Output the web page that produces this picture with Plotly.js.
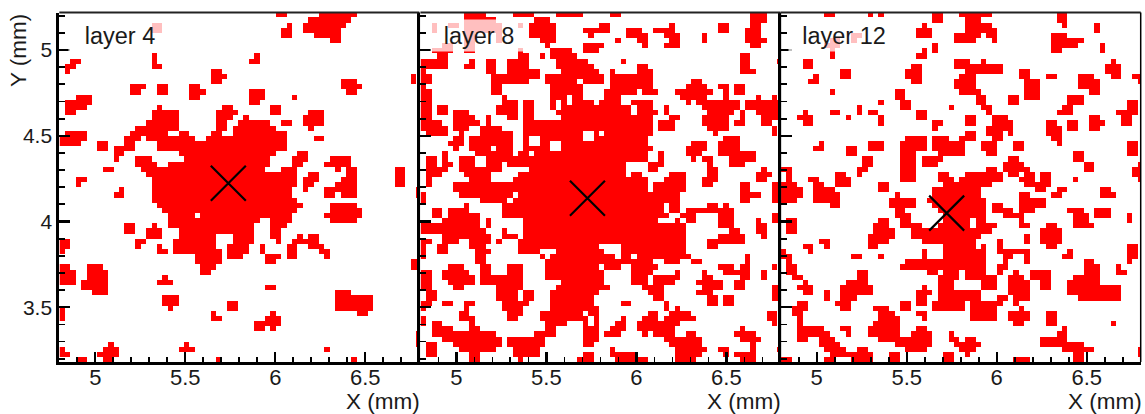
<!DOCTYPE html>
<html><head><meta charset="utf-8">
<script src="https://cdn.plot.ly/plotly-3.0.1.min.js"></script>
<style>html,body{margin:0;padding:0;background:#fff}</style></head><body>
<div id="chart" style="width:1145px;height:414px"></div>
<script>
const panelNames=["layer 4","layer 8","layer 12"];
const markX=[5.739,5.728,5.722];
const markY=[4.223,4.136,4.049];
const xTicks=[5,5.5,6,6.5];
const yTicks=[3.5,4,4.5,5];
const cellSize=0.03;
const nCols=67;
const firstColX=4.817;
const firstRowY=5.205;
// each string: the lit pixel columns of one detector row, top row first
const layer4=["40-41 48-54","46-53","17-18 42 45-52","17-18 41-42 45-51","41-42 47-51","50-51","","","17 36","2-3 17 35-36","1-2 17-18","1 28-29","28-30 65","28-29 52-54 65","13-15 18-19 24-25 52-55","13-14 18-19 24-26 35-37 53-54","3-5 24-25 35-37 43","1-5 35-36","1-4 18 30-31 39-40","1-2 17-21 29-32 39-40 46-48","17-21 29-31 34 45-48","16-21 29-30 33-38 41-42 45-48","14-21 29-30 32-39 46","1-4 13-19 22-23 28-29 32-41","0-4 12-14 16-24 27-41 47-48","0-3 7-8 12-13 18-41","7-8 10-13 18-41","10-11 22-39 44-45","10 14-16 23-38 43-45 50-53","14-17 20-38 43-44 49-53","8-9 15-37 41-43 51 53-54 62-63","16-43 46-47 53-54 62-63","3-4 17-43 45-47 52-54 62-63","3 17-43 45-46 51-54 62-63","11 17-42 45 49-54 66","10-11 17-42 49-50 52-54 66","17-43","18-44 50-54","19-43 50-55","20-24 26-42 49-55","20-36 39-42 50-54","12-13 17 20-35 39-41","12-13 16-18 22-35 39-40","16-18 22-28 32-35 39-40 44 46-47","0-1 14-15 21-28 32-35 40 43-47","0-1 14 18 21-28 31-34 37 42-43 46-48","0 18-19 21-29 31-34 37 42-43 48-49","25-29 31-33 38-40 42-43 49","25-29 38-39 65-66","0-1 5-7 26-28 65-66","0-2 5-8 26-27","0-2 5-8 19","0-2 4-8 18-20","4-8 38-39","6-8 51-53","19-21 51-57","19-21 31-32 51-57","0 20 31-32 51-57","0 28 39 55-56","0 28-29 38-40","36-40","36-37 39","66","66","9 23 66","0 8-10 22-24 49","0-1 7-10","3-4 8-9 29 54"];
const layer8=["8-11 17-20 25-29 35-36 61-63","8-13 21-23 61-63","2 5-6 8-14 18 20-24 33-34 46 55-56 61-62","2 8-14 20-24 30-34 38-40 43-46 55-56 60-62","8-9 14 20-24 31 38-41 45-47 52 60-62","8-9 14 22-24 36 40-41 46-47 52 60-63","4-5 8-9 23 30-33 41 45-47 61-62","2-5 8-9 18 24-27 30-32","3-4 18-19 22 24-28 59-60","0-4 9 12-13 16-19 25-30 37 59-60 66","0-4 8-9 12-13 16-19 25-31 40-41 59-60","0 12-13 16-21 26-32 35 40-42 59-61","0-1 13-21 23-33 35-42","0-1 13-19 23-28 30-33 35-42 50-51","0 13-14 24-29 35-42 49-52 55-56 58-59","0-1 13-14 24-29 34-39 41-43 47-53 56 58-59","0-1 15 24-26 28-29 34-36 48-52 56 62 65","0-1 15-17 19-20 24 26 28-31 33-36 39-42 49 51-58 60-66","0-1 3-4 14-17 19-20 24 26-38 40-42 45 52-58 60-66","0-1 3-4 6-8 14-17 19-20 25-38 40-43 45 53-57 59 62-66","0-1 6-9 12 16-17 19-20 26-42 46-47 52-56 59 63-66","0-3 6-10 12 19-42 44-46 52-56 58-59 63-64","0-4 6-8 11-14 19-42 44-46 53-56 65","1-4 7 11-16 19-29 32 34-42 54 65","6-7 9-16 19 22-29 32-41 56-58","5-7 9-16 19 22-23 26-41 50-52 55-58","6 9-12 14-16 19-23 26-42 49-52 55-58","4 10-16 18-19 21-41 44 49-51 55-61","1-2 4 7-9 12-41 44 50 52-53 57-61","1-2 4-5 7-9 12-14 16-37 42-44 53 57-59","1-4 7-14 20-37 42-43 53-54 63","1-3 8-12 18-37 39-40 46-48 53-54 62-64","1 9-12 17-41 45-48 52-54 62-63","1 6-41 43-48 52-53 59-60 65-66","6-41 43-48 59-60 65-66","0 7-16 18-47 59-62 65-66","0 11-15 17-47 59-60 65-66","8 15-44 46-47 53-54 56","2-3 5-8 15-44 46-47 49-57","2-3 5-10 15-45 48-50 55-57 65-66","4-10 12 19-43 47 49-50 55-57 62 65-66","0-10 12 19-48 55-57 62-63","0-11 15 19-48 57-58 62-63","4-12 15-17 19-48 55-59 63","0-1 4-6 9-12 14 18-48 53-59","0 3-4 9-11 18-32 37-48 53-54","0 3-4 10-12 18-21 25-33 37-48","0 10-11 22 24-35 37-38 40-49 60","10-11 23-42 45-47 50-51 60","5-7 11-12 16-18 23-32 34-36 39-43 55-57 59-60 65","0-1 4-8 11-12 16-18 23-33 39-42 47 52 56-60 63","0-1 4-9 11-18 23-33 39-41 43-47 52-53 59-60 63","0-1 5-9 11-18 26-33 39-41 43-46 51-55 58-59","0-1 6-7 14-18 25-34 41-44 52-55 58-59 65-66","1-2 14-17 19-20 24-32 42-44 51-53 65-66","1-2 14-17 19-20 24-31 43-44 53-54 56-57 65-66","0-1 4-5 8-9 15-19 24-31 37-38 45 53-54 56-57","0 8 15-18 24-32 45 47","7-8 16-18 22-29 31-32 42-43 46-49 64-65","0 7-9 16-17 22-30 32 37 41-43 45-50 64-65","0 2-3 9 23-26 30 32 36-37 40-47 65","2-5 9-10 23-24 30-32 35-37 40-46 59","2-13 21-24 30-32 34-36 41 43-46 49-50 58-61","4-14 16-22 30-32 45-51 59-62","1-2 6-14 16-22 30-31 46-51 61","1-2 7-13 17-21 35 47-52 55-56 61 66","1-2 9-10 17-21 30-31 35-39 47-51 56 58-61","9-10 18 29-31 36-41 47-50 59-61"];
const layer12=["8-9 16 18 28-29 33-38 51-52","28-29 34-36 51-52","26 34-38 52 58","25-27 34-39 58","13-14 25-27 32-36 38-39 50-52","9-10 13 32-35 39 50-55","8-10 28 50-54 59","9 26 28 50-51 59","9 25-26","4-5 32-34 37 61","4-5 24-25 32-40 60-62","11-12 23-25 34-40 44-45 60-62","6 11-12 23-25 33-35 44-45 49-50 55-57 61-62 65-66","5-6 24-25 32-35 45-47 55-58 66","32-35 45-47 55-58","9 21-22 33-36 45-47 57-58","21-22 36-37 42-43 45-47 53-55","18 22-23 36-37 42-43 53-55 64-65","14 22-23 31 37-38 52-53 64-65","4 9-10 14 16-17 25-26 38 51-53 62-65","3-5 12 18 25-26 34-35 39-41 57-58 63-64","4-5 18 28-29 34-35 39-42 49-50 53-54 57-59 63-64","28 38-42 49-51 53-54 57-58","34-35 38-40 42 49-51","23-26 28-30 33-35 39-40 50-51","7 16-18 22-26 28-33 37-39 43-44 51 64-65","6-7 12-13 16-18 22-26 28-33 37-39 43-44 64-65","12-13 22-24 29-33 38-39 54-55 64-65","15-16 22-24 26-29 42-43 54-55","15-16 22-24 26-28 41-44 56-57 66","0-1 14-15 22-24 38-39 41-45 56-57 65-66","1 10-11 14 22-24 29-30 34-40 42-43 45-46 48-49 65-66","1 5-6 10-12 22-24 29-31 33-40 44-46 48-49 54 66","0-2 6-7 10-12 18-19 30-38 45-49","0-3 6-9 18-19 28-36 47-48 51-52 59-60","0-3 6-10 21 28-36 44-45 50-51 59-61","0-2 6-10 20-24 27-37 44-48","9-10 20-24 28-37 39-40 44-48","21-22 29-37 39-42 44-46 53-55 58-60","21-23 30-37 41-44 54-56 58-60 64","1-2 18-19 22-23 30-34 36-37 44 54-56 64","1-2 17-19 22-25 29-34 36-39 44-45 49-50 54-57","1-2 17-20 24-38 48-51","16-20 24-36 45 48-51","7-8 16-19 26-35 40 45 48-51","4-5 8 16-17 30-35 37 40 49-50 64-65","0 5 26 30-37 40-45 53 64-65","0-1 13-14 18 26 30-37 41-42 45 52-53 64-65","1 23-37 41 45 56-57 64","1-2 22-37 40-41 56-58 62","1-2 14-15 27-28 30-32 34-37 40 43 46-49 56-58 62-63","2-3 14-15 29-32 34-39 42-44 46-49 54-58","4 12-15 29-31 37-39 42-45 48-49 53-58","3-5 11-16 26 29-31 37-39 42-45 48-49 53-62","4-5 8 11-16 25-27 29-36 42-45 53-62","8 11-13 25-26 29-36 40-41 43-45 55-62","3-4 10-12 22-23 25-26 28-33 35-40 43","2-4 11-12 17-19 22-23 28-33 35-39 44","2-3 18-20 25-26 35-39 42-45 49-50","3 18-21 26 35-39 42-45 49-50","3 17-21 43-44 49-50 61","3-7 11-12 16-21 25-26 52","3-8 12 16-21 24-27 31 51-52","3-4 7-9 18-27 31-32 34-35 48-52","7-10 21-27 32-36 48-55","8-11 14-15 23-26 33-35 52-57 66","9-16 20-21 30-31 34 54-55 66","0-1 8-9 13-16 20-21 30-31 43-45 54-55"];
const layers=[layer4,layer8,layer12];

function toGrid(rows){
  return rows.map(r=>{
    const line=new Array(nCols).fill(0);
    r.split(" ").filter(Boolean).forEach(s=>{
      const p=s.split("-").map(Number);
      for(let c=p[0];c<=(p.length>1?p[1]:p[0]);c++) line[c]=1;
    });
    return line;
  });
}
const W=1145,H=414;
const lefts=[59.3,420.4,780.7], plotW=360, plotTop=12.5, plotBottom=362;
const data=[],layout={
  width:W,height:H,margin:{l:0,r:0,t:0,b:0},paper_bgcolor:"#fff",plot_bgcolor:"#fff",showlegend:false,
  font:{family:"Liberation Sans, Arial, sans-serif",size:22,color:"#1a1a1a"},
  annotations:[],shapes:[]
};
const labelBox=[[119.5,98],[479,92],[844,106]];
const suffix=["","2","3"];
layers.forEach((rows,i)=>{
  const s=suffix[i];
  const z=toGrid(rows);
  const xs=[...Array(nCols).keys()].map(c=>firstColX+cellSize*c);
  const ys=rows.map((_,r)=>firstRowY-cellSize*r);
  data.push({type:"heatmap",x:xs,y:ys,z:z,zmin:0,zmax:1,showscale:false,zsmooth:false,hoverongaps:false,
    colorscale:[[0,"#ffffff"],[1,"#ff0000"]],xaxis:"x"+s,yaxis:"y"+s});
  data.push({type:"scatter",mode:"markers",x:[markX[i]],y:[markY[i]],xaxis:"x"+s,yaxis:"y"+s,
    marker:{symbol:"x-thin",size:35,color:"#000",line:{width:2.2,color:"#000"}}});
  layout["xaxis"+s]={domain:[lefts[i]/W,(lefts[i]+plotW)/W],range:[4.8,6.8],anchor:"y"+s,
    tickvals:xTicks,ticktext:xTicks.map(String),ticks:"inside",ticklen:10,tickwidth:2.2,tickcolor:"#000",
    minor:{dtick:0.1,ticks:"inside",ticklen:5,tickwidth:1.8,tickcolor:"#000"},tickfont:{size:22},
    showline:true,linewidth:3,linecolor:"#000",showgrid:false,zeroline:false,ticklabelstandoff:-6};
  layout["yaxis"+s]={domain:[1-plotBottom/H,1-plotTop/H],range:[3.181,5.2187],anchor:"x"+s,
    tickvals:yTicks,ticktext:yTicks.map(String),showticklabels:i===0,ticks:"inside",ticklen:11,tickwidth:2.2,tickcolor:"#000",
    minor:{dtick:0.1,ticks:"inside",ticklen:6,tickwidth:1.8,tickcolor:"#000"},tickfont:{size:21},
    showline:true,linewidth:3,linecolor:"#000",showgrid:false,zeroline:false,ticklabelstandoff:0};
  const xd="x"+s+" domain",yd="y"+s+" domain";
  layout.shapes.push({type:"line",xref:xd,yref:yd,x0:0,x1:1,y0:1,y1:1,line:{color:"#222",width:2},layer:"above"});
  layout.shapes.push({type:"line",xref:xd,yref:yd,x0:1,x1:1,y0:0,y1:1,line:{color:"#000",width:1.5},layer:"above"});
  layout.annotations.push({text:panelNames[i],xref:"paper",yref:"paper",x:labelBox[i][0]/W,y:1-35.5/H,
    xanchor:"center",yanchor:"middle",showarrow:false,font:{size:23.5},width:labelBox[i][1],height:27,borderpad:2,
    bgcolor:"rgba(255,255,255,0.75)"});
  layout.annotations.push({text:"X (mm)",xref:"paper",yref:"paper",x:(lefts[i]+plotW+3)/W,y:1-401/H,
    xanchor:"right",yanchor:"middle",showarrow:false,font:{size:22.5}});
});
layout.annotations.push({text:"Y (mm)",xref:"paper",yref:"paper",x:18/W,y:1-51/H,textangle:-90,
  xanchor:"center",yanchor:"middle",showarrow:false,font:{size:22.5}});
Plotly.newPlot("chart",data,layout,{displayModeBar:false,staticPlot:true});
</script></body></html>
